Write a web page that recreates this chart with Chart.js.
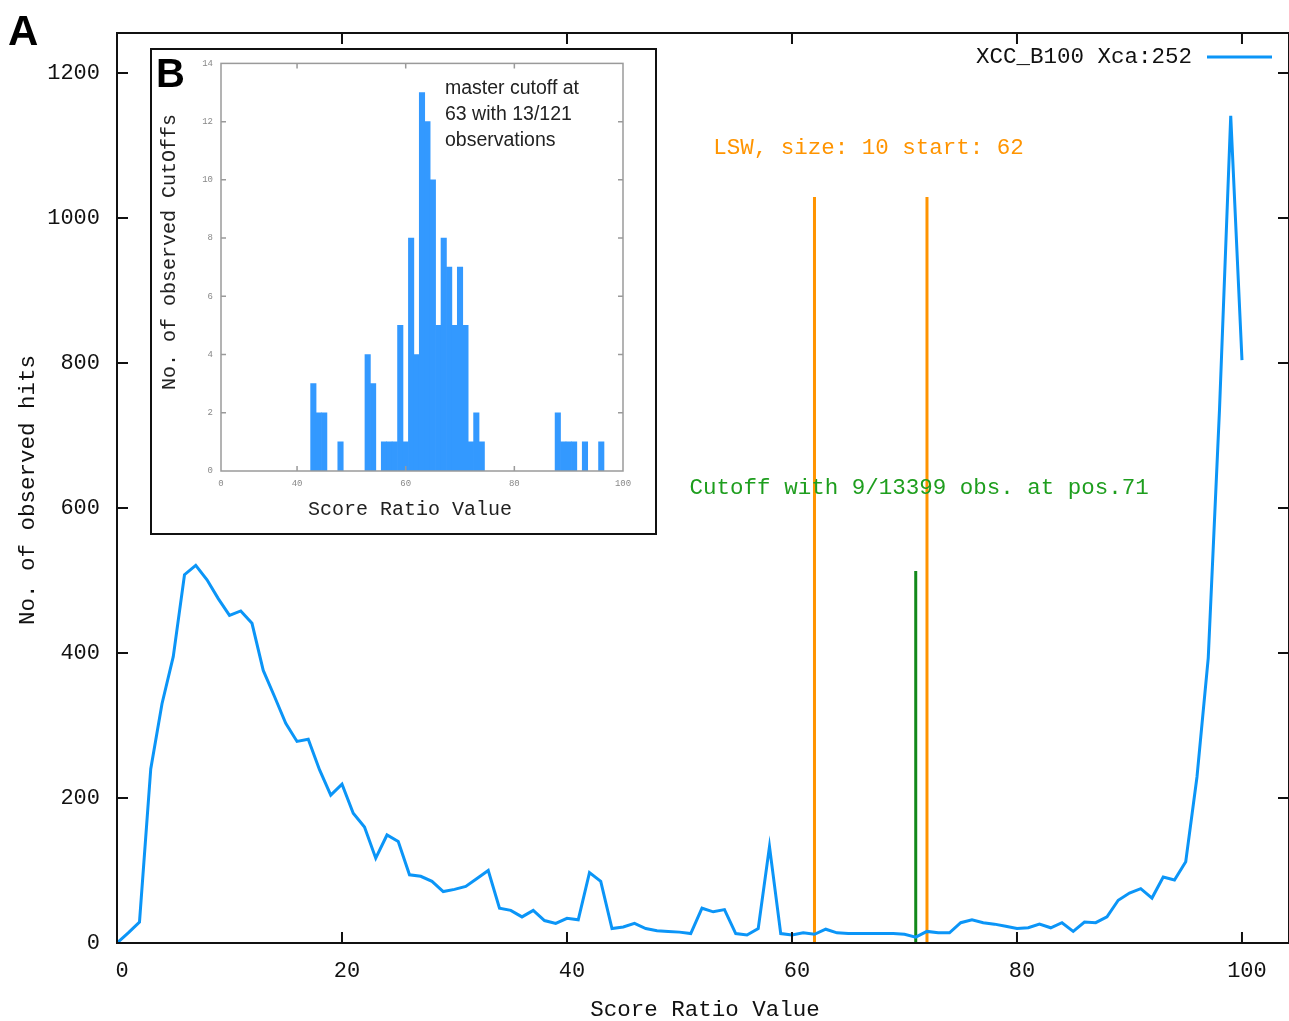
<!DOCTYPE html>
<html>
<head>
<meta charset="utf-8">
<script src="https://cdn.jsdelivr.net/npm/chart.js@4.4.1/dist/chart.umd.min.js"></script>
<style>
  body { margin: 0; background: #fff; }
  #wrap { position: relative; width: 1289px; height: 1021px; overflow: hidden; }
  #main { position: absolute; left: 0; top: 0; }
  #insetBox { position: absolute; left: 150px; top: 48px; width: 507px; height: 487px;
              box-sizing: border-box; border: 2px solid #111; background: #fff; }
  #inset { position: absolute; left: 0; top: 0; }
</style>
</head>
<body>
<div id="wrap">
  <canvas id="main" width="1289" height="1021"></canvas>
  <div id="insetBox"><canvas id="inset" width="503" height="483"></canvas></div>
</div>
<script>
// Main plot: hits per score ratio value
const scoreRatio = [
  0, 1, 2, 3, 4, 5, 6, 7, 8, 9, 10, 11, 12, 13, 14, 15, 16, 17, 18, 19, 20,
  21, 22, 23, 24, 25, 26, 27, 28, 29, 30, 31, 32, 33, 34, 35, 36, 37, 38, 39, 40,
  41, 42, 43, 44, 45, 46, 47, 48, 49, 50, 51, 52, 53, 54, 55, 56, 57, 58, 59, 60,
  61, 62, 63, 64, 65, 66, 67, 68, 69, 70, 71, 72, 73, 74, 75, 76, 77, 78, 79, 80,
  81, 82, 83, 84, 85, 86, 87, 88, 89, 90, 91, 92, 93, 94, 95, 96, 97, 98, 99, 100
];
const observedHits = [
  0, 14, 29, 240, 330, 395, 508, 521, 501, 475, 452, 458, 441, 376, 340, 303, 278, 281, 239, 204, 219,
  179, 160, 117, 149, 140, 94, 92, 85, 71, 74, 78, 89, 100, 48, 45, 36, 45, 31, 27, 34,
  32, 97, 85, 20, 22, 27, 20, 17, 16, 15, 13, 48, 43, 46, 13, 11, 20, 133, 13, 11,
  14, 12, 19, 14, 13, 13, 13, 13, 13, 12, 8, 16, 14, 14, 28, 32, 28, 26, 23, 20,
  21, 26, 21, 28, 16, 29, 28, 36, 59, 69, 75, 62, 91, 87, 112, 229, 393, 735, 1141, 804
];
const seriesLabel = 'XCC_B100 Xca:252';
const xTicksMain = [0, 20, 40, 60, 80, 100];
const yTicksMain = [0, 200, 400, 600, 800, 1000, 1200];

// LSW window and cutoff markers
const lswBounds = [62, 72];
const lswTop = 1029;
const lswLabel = 'LSW, size: 10 start: 62';
const cutoffPos = 71;
const cutoffTop = 513;
const cutoffLabel = 'Cutoff with 9/13399 obs. at pos.71';

// Inset B: histogram of observed cutoffs
const insetBins = [43, 44, 45, 48, 53, 54, 56, 57, 58, 59, 60, 61, 62, 63, 64, 65, 66, 67, 68, 69, 70, 71, 72, 73, 74, 88, 89, 90, 91, 93, 96];
const insetCounts = [3, 2, 2, 1, 4, 3, 1, 1, 1, 5, 1, 8, 4, 13, 12, 10, 5, 8, 7, 5, 7, 5, 1, 2, 1, 2, 1, 1, 1, 1, 1];
const insetXTicks = [26, 40, 60, 80, 100];
const insetXTickLabels = ['0', '40', '60', '80', '100'];
const insetYTicks = [0, 2, 4, 6, 8, 10, 12, 14];
const insetNote = ['master cutoff at', '63 with 13/121', 'observations'];

const MONO = "'Liberation Mono', 'DejaVu Sans Mono', monospace";
const SANS = "'Liberation Sans', Arial, sans-serif";
const BLUE = '#0b95f7';
const ORANGE = '#ff9400';
const GREEN_LINE = '#12891a';
const GREEN_TEXT = '#1e9e1e';

// frame + inward ticks on all four sides (gnuplot look)
function drawFrame(chart, color, width, tickLen, tickColor) {
  const { ctx, chartArea: a, scales: { x, y } } = chart;
  ctx.save();
  ctx.strokeStyle = tickColor;
  ctx.lineWidth = width;
  ctx.beginPath();
  x.ticks.forEach(t => {
    const px = x.getPixelForValue(t.value);
    if (px <= a.left + 1 || px >= a.right - 1) return;
    ctx.moveTo(px, a.bottom); ctx.lineTo(px, a.bottom - tickLen);
    ctx.moveTo(px, a.top); ctx.lineTo(px, a.top + tickLen);
  });
  y.ticks.forEach(t => {
    const py = y.getPixelForValue(t.value);
    if (py >= a.bottom - 1 || py <= a.top + 1) return;
    ctx.moveTo(a.left, py); ctx.lineTo(a.left + tickLen, py);
    ctx.moveTo(a.right, py); ctx.lineTo(a.right - tickLen, py);
  });
  ctx.stroke();
  ctx.strokeStyle = color;
  ctx.strokeRect(a.left, a.top, a.right - a.left, a.bottom - a.top);
  ctx.restore();
}

const mainDecor = {
  id: 'mainDecor',
  afterDraw(chart) {
    const { ctx, scales: { x, y } } = chart;
    drawFrame(chart, '#111', 2, 11, '#111');
    ctx.save();
    ctx.fillStyle = '#111';
    ctx.textBaseline = 'middle';
    ctx.font = '22.5px ' + MONO;
    // axis titles
    ctx.textAlign = 'center';
    ctx.fillText('Score Ratio Value', 705, 1010);
    ctx.save();
    ctx.translate(28, 490);
    ctx.rotate(-Math.PI / 2);
    ctx.fillText('No. of observed hits', 0, 0);
    ctx.restore();
    // legend
    ctx.textAlign = 'right';
    ctx.fillText(seriesLabel, 1192, 57);
    ctx.strokeStyle = BLUE;
    ctx.lineWidth = 3;
    ctx.beginPath();
    ctx.moveTo(1207, 57); ctx.lineTo(1272, 57);
    ctx.stroke();
    // annotations placed in data coordinates
    ctx.textAlign = 'left';
    ctx.fillStyle = ORANGE;
    ctx.fillText(lswLabel, x.getPixelForValue(53.0), y.getPixelForValue(1097));
    ctx.fillStyle = GREEN_TEXT;
    ctx.fillText(cutoffLabel, x.getPixelForValue(50.9), y.getPixelForValue(628));
    // panel letter
    ctx.fillStyle = '#000';
    ctx.textBaseline = 'alphabetic';
    ctx.font = 'bold 42px ' + SANS;
    ctx.fillText('A', 8, 45);
    ctx.restore();
  }
};

new Chart(document.getElementById('main'), {
  type: 'line',
  data: {
    datasets: [
      {
        label: seriesLabel,
        data: scoreRatio.map((v, i) => ({ x: v, y: observedHits[i] })),
        borderColor: BLUE, borderWidth: 3, pointRadius: 0, tension: 0
      },
      {
        label: 'LSW start',
        data: [{ x: lswBounds[0], y: 0 }, { x: lswBounds[0], y: lswTop }],
        borderColor: ORANGE, borderWidth: 3, pointRadius: 0
      },
      {
        label: 'LSW end',
        data: [{ x: lswBounds[1], y: 0 }, { x: lswBounds[1], y: lswTop }],
        borderColor: ORANGE, borderWidth: 3, pointRadius: 0
      },
      {
        label: 'Cutoff',
        data: [{ x: cutoffPos, y: 0 }, { x: cutoffPos, y: cutoffTop }],
        borderColor: GREEN_LINE, borderWidth: 3, pointRadius: 0
      }
    ]
  },
  options: {
    responsive: false,
    animation: false,
    devicePixelRatio: 1,
    layout: { padding: { top: 33, right: 0, bottom: 0, left: 0 } },
    plugins: { legend: { display: false }, tooltip: { enabled: false } },
    scales: {
      x: {
        type: 'linear', min: 0, max: 104.18,
        afterBuildTicks: s => { s.ticks = xTicksMain.map(v => ({ value: v })); },
        afterFit: s => { s.height = 78; },
        grid: { display: false, drawTicks: false },
        border: { display: false },
        ticks: { autoSkip: false, maxRotation: 0, padding: 15, labelOffset: 5, color: '#111',
                 font: { family: MONO, size: 22 }, callback: v => String(v) }
      },
      y: {
        type: 'linear', min: 0, max: 1255.2,
        afterBuildTicks: s => { s.ticks = yTicksMain.map(v => ({ value: v })); },
        afterFit: s => { s.width = 117; },
        grid: { display: false, drawTicks: false },
        border: { display: false },
        ticks: { padding: 17, color: '#111', font: { family: MONO, size: 22 },
                 callback: v => String(v) }
      }
    }
  },
  plugins: [mainDecor]
});

const insetDecor = {
  id: 'insetDecor',
  afterDraw(chart) {
    const { ctx } = chart;
    drawFrame(chart, '#9a9a9a', 1.5, 5, '#9a9a9a');
    ctx.save();
    ctx.fillStyle = '#222';
    ctx.textBaseline = 'middle';
    ctx.textAlign = 'center';
    ctx.font = '20px ' + MONO;
    ctx.fillText('Score Ratio Value', 258, 460);
    ctx.save();
    ctx.translate(18, 202);
    ctx.rotate(-Math.PI / 2);
    ctx.fillText('No. of observed CutOffs', 0, 0);
    ctx.restore();
    ctx.textAlign = 'left';
    ctx.font = '19.5px ' + SANS;
    insetNote.forEach((line, i) => ctx.fillText(line, 293, 39 + i * 26));
    ctx.fillStyle = '#000';
    ctx.textBaseline = 'alphabetic';
    ctx.font = 'bold 40px ' + SANS;
    ctx.fillText('B', 4, 37);
    ctx.restore();
  }
};

new Chart(document.getElementById('inset'), {
  type: 'bar',
  data: {
    datasets: [{
      label: 'CutOffs',
      data: insetBins.map((b, i) => ({ x: b, y: insetCounts[i] })),
      backgroundColor: '#3399ff',
      borderWidth: 0,
      barPercentage: 1,
      categoryPercentage: 1
    }]
  },
  options: {
    responsive: false,
    animation: false,
    devicePixelRatio: 1,
    layout: { padding: { top: 11, right: 32, bottom: 0, left: 0 } },
    plugins: { legend: { display: false }, tooltip: { enabled: false } },
    scales: {
      x: {
        type: 'linear', min: insetXTicks[0], max: 100, offset: false,
        afterBuildTicks: s => { s.ticks = insetXTicks.map(v => ({ value: v })); },
        afterFit: s => { s.height = 62; },
        grid: { display: false, drawTicks: false },
        border: { display: false },
        ticks: { autoSkip: false, maxRotation: 0, padding: 7, color: '#888',
                 font: { family: MONO, size: 9 },
                 callback: (v, i) => insetXTickLabels[i] }
      },
      y: {
        type: 'linear', min: 0, max: 14,
        afterBuildTicks: s => { s.ticks = insetYTicks.map(v => ({ value: v })); },
        afterFit: s => { s.width = 69; },
        grid: { display: false, drawTicks: false },
        border: { display: false },
        ticks: { padding: 8, color: '#888', font: { family: MONO, size: 9 } }
      }
    }
  },
  plugins: [insetDecor]
});
</script>
</body>
</html>
